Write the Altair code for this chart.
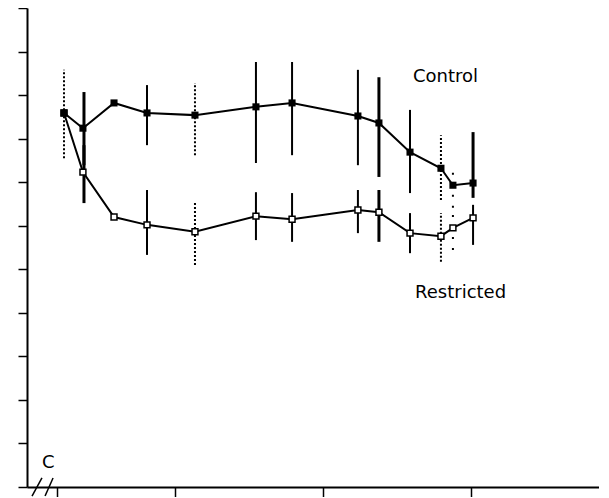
import altair as alt
import pandas as pd

# x in arbitrary time units (axis ticks at 0.2 (after break), 1, 2, 3); y in tick units 0..11
x_pts = [0.25, 0.378, 0.588, 0.811, 1.135, 1.547, 1.791, 2.236, 2.378, 2.588, 2.797, 2.878, 3.014]
control_y = [8.59, 8.24, 8.82, 8.59, 8.54, 8.73, 8.82, 8.52, 8.36, 7.69, 7.32, 6.93, 6.98]
restricted_y = [8.59, 7.23, 6.20, 6.02, 5.86, 6.22, 6.15, 6.36, 6.31, 5.83, 5.76, 5.95, 6.18]

# error bars: x, low, high, style
control_bar_x = [0.25, 0.385, 0.811, 1.135, 1.547, 1.791, 2.236, 2.378, 2.588, 2.797, 2.878, 3.014]
control_low = [7.55, 7.39, 7.85, 7.62, 7.44, 7.62, 7.39, 7.12, 6.75, 6.59, 6.41, 6.64]
control_high = [9.58, 9.07, 9.23, 9.28, 9.76, 9.76, 9.58, 9.41, 8.66, 8.08, 7.35, 8.15]
control_style = ["dotted", "thick", "solid", "dotted", "solid", "solid", "solid", "thick", "solid", "dotted", "sparse", "thick"]

restr_bar_x = [0.385, 0.811, 1.135, 1.547, 1.791, 2.236, 2.378, 2.588, 2.797, 2.878, 3.014]
restr_low = [6.52, 5.33, 5.10, 5.67, 5.63, 5.83, 5.63, 5.37, 5.17, 5.44, 5.56]
restr_high = [7.85, 6.82, 6.54, 6.77, 6.75, 6.82, 6.82, 6.29, 6.29, 6.41, 6.48]
restr_style = ["thick", "solid", "dotted", "solid", "solid", "solid", "thick", "solid", "dotted", "sparse", "solid"]

labels = ["Control", "Restricted", "C"]
label_x = [2.608, 2.622, 0.101]
label_y = [9.30, 4.34, 0.436]

# axis break marks "//"
break_x1 = [0.034, 0.122]
break_x2 = [0.101, 0.176]
break_y1 = [-0.207, -0.207]
break_y2 = [0.207, 0.207]

x_ticks = [0.2, 1, 2, 3]
y_ticks = list(range(0, 12))

pts = pd.DataFrame({
    "x": x_pts * 2,
    "y": control_y + restricted_y,
    "group": ["Control"] * len(x_pts) + ["Restricted"] * len(x_pts),
})
bars = pd.DataFrame({
    "x": control_bar_x + restr_bar_x,
    "low": control_low + restr_low,
    "high": control_high + restr_high,
    "style": control_style + restr_style,
})
lab = pd.DataFrame({"text": labels, "x": label_x, "y": label_y})
brk = pd.DataFrame({"x": break_x1, "x2": break_x2, "y": break_y1, "y2": break_y2})

xs = alt.Scale(domain=[0, 3.865], nice=False, zero=False)
ys = alt.Scale(domain=[0, 11], nice=False)

xaxis = alt.Axis(values=x_ticks, labels=False, title=None, grid=False,
                 tickSize=12, tickWidth=1.5, domainWidth=2,
                 domainColor="black", tickColor="black")
yaxis = alt.Axis(values=y_ticks, labels=False, title=None, grid=False,
                 tickSize=9, tickWidth=1.5, domainWidth=2,
                 domainColor="black", tickColor="black")


def X(field="x:Q"):
    return alt.X(field, scale=xs, axis=xaxis)


def Y(field="y:Q"):
    return alt.Y(field, scale=ys, axis=yaxis)


base_bars = alt.Chart(bars)


def bar_layer(style, width, dash=None):
    kw = dict(color="black", strokeWidth=width)
    if dash:
        kw["strokeDash"] = dash
    return base_bars.transform_filter(alt.datum.style == style).mark_rule(**kw).encode(
        x=X(), y=Y("low:Q"), y2="high:Q",
    )


layers = [
    bar_layer("solid", 2),
    bar_layer("thick", 3),
    bar_layer("dotted", 2, [2, 2]),
    bar_layer("sparse", 2, [2, 9]),
]

lines = alt.Chart(pts).mark_line(color="black", strokeWidth=2).encode(
    x=X(), y=Y(), detail="group:N", order="x:Q"
)

restr_pts = alt.Chart(pts).transform_filter(alt.datum.group == "Restricted").mark_point(
    shape="square", filled=True, fill="white", stroke="black", strokeWidth=1.5, size=35, opacity=1
).encode(x=X(), y=Y())

ctrl_pts = alt.Chart(pts).transform_filter(alt.datum.group == "Control").mark_point(
    shape="square", filled=True, color="black", size=50, opacity=1
).encode(x=X(), y=Y())

text = alt.Chart(lab).mark_text(
    align="left", baseline="alphabetic", font="DejaVu Sans", fontSize=18, color="black"
).encode(x=X(), y=Y(), text="text:N")

breaks = alt.Chart(brk).mark_rule(color="black", strokeWidth=1.5).encode(
    x=X(), x2="x2:Q", y=Y(), y2="y2:Q"
)

chart = alt.layer(lines, *layers, restr_pts, ctrl_pts, text, breaks).properties(
    width=572, height=479,
    autosize=alt.AutoSizeParams(type="none"),
    padding={"left": 19, "top": 0, "right": 0, "bottom": 10},
    background="white",
).configure_view(stroke=None)

chart.save("out.html", embed_options={"renderer": "svg", "actions": False})
